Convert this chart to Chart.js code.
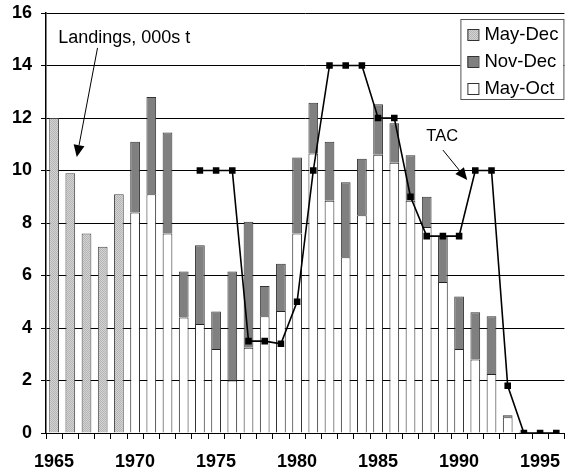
<!DOCTYPE html>
<html>
<head>
<meta charset="utf-8">
<script src="https://cdn.jsdelivr.net/npm/chart.js@4/dist/chart.umd.min.js"></script>
<style>
  body { margin: 0; background: #fff; }
  #wrap { width: 570px; height: 475px; }
</style>
</head>
<body>
<div id="wrap"><canvas id="tacChart"></canvas></div>
<script>
const years = [];
for (let y = 1965; y <= 1996; y++) years.push(String(y));

// landings, 000s t
const mayDec = [12.0, 9.9, 7.6, 7.1, 9.1, null, null, null, null, null, null, null, null, null, null, null,
                null, null, null, null, null, null, null, null, null, null, null, null, null, null, null, null];
const mayOct = [null, null, null, null, null, 8.4, 9.1, 7.6, 4.4, 4.15, 3.2, 2.0, 3.25, 4.45, 4.65, 7.6,
                10.65, 8.85, 6.7, 8.3, 10.6, 10.3, 8.85, 7.85, 5.75, 3.2, 2.8, 2.25, 0.6, 0.05, 0, 0];
const novDec = [null, null, null, null, null, 2.7, 3.7, 3.85, 1.75, 3.0, 1.43, 4.15, 4.8, 1.15, 1.8, 2.9,
                1.93, 2.25, 2.85, 2.15, 1.92, 1.5, 1.73, 1.15, 1.75, 2.0, 1.8, 2.2, 0.08, 0, 0, 0];
const tac = [null, null, null, null, null, null, null, null, null, 10, 10, 10, 3.5, 3.5, 3.4, 5.0,
             10, 14, 14, 14, 12, 12, 9.0, 7.5, 7.5, 7.5, 10, 10, 1.8, 0, 0, 0];
const yTicks = [0, 2, 4, 6, 8, 10, 12, 14, 16];

const font = 'Arial, "Liberation Sans", sans-serif';

// light grey stipple for the May-Dec bars
function stipple() {
    const c = document.createElement('canvas');
    c.width = 2; c.height = 2;
    const g = c.getContext('2d');
    g.fillStyle = '#d4d4d4';
    g.fillRect(0, 0, 2, 2);
    g.fillStyle = '#b4b4b4';
    g.fillRect(0, 0, 1, 1);
    g.fillRect(1, 1, 1, 1);
    return g.createPattern(c, 'repeat');
}
const stippleFill = stipple();

function arrow(ctx, x1, y1, x2, y2) {
    const a = Math.atan2(y2 - y1, x2 - x1);
    const len = 12, w = 5.5;
    const bx = x2 - len * Math.cos(a), by = y2 - len * Math.sin(a);
    ctx.beginPath();
    ctx.moveTo(x1, y1);
    ctx.lineTo(bx, by);
    ctx.stroke();
    ctx.beginPath();
    ctx.moveTo(x2, y2);
    ctx.lineTo(bx + w * Math.sin(a), by - w * Math.cos(a));
    ctx.lineTo(bx - w * Math.sin(a), by + w * Math.cos(a));
    ctx.closePath();
    ctx.fill();
}

const notes = {
    id: 'notes',
    afterDraw(chart) {
        const ctx = chart.ctx;
        const x = chart.scales.x, y = chart.scales.y;
        const px = v => x.left + (v + 0.5) * (x.width / years.length);
        ctx.save();
        ctx.fillStyle = '#000';
        ctx.strokeStyle = '#000';
        ctx.lineWidth = 1;
        ctx.font = '18px ' + font;
        ctx.textAlign = 'center';
        ctx.textBaseline = 'middle';
        ctx.fillText('Landings, 000s t', px(4.33), y.getPixelForValue(15.05));
        arrow(ctx, px(2.68), y.getPixelForValue(14.67), px(1.4), y.getPixelForValue(10.51));
        ctx.font = '16.5px ' + font;
        ctx.fillText('TAC', px(23.96), y.getPixelForValue(11.31));
        arrow(ctx, px(24.0), y.getPixelForValue(10.78), px(25.5), y.getPixelForValue(9.64));

        // legend box
        const area = chart.chartArea;
        const bw = 103, bh = 80;
        const bx = area.right - bw - 1, by = area.top + 6;
        ctx.fillStyle = '#fff';
        ctx.fillRect(bx, by, bw, bh);
        ctx.strokeStyle = '#555';
        ctx.strokeRect(bx + 0.5, by + 0.5, bw, bh);
        const items = [['May-Dec', stippleFill], ['Nov-Dec', '#808080'], ['May-Oct', '#fff']];
        ctx.font = '18.5px ' + font;
        ctx.textAlign = 'left';
        items.forEach((it, i) => {
            const ry = by + 15 + i * 27;
            ctx.fillStyle = it[1];
            ctx.fillRect(bx + 7, ry - 5, 11, 11);
            ctx.strokeStyle = '#333';
            ctx.strokeRect(bx + 7.5, ry - 4.5, 11, 11);
            ctx.fillStyle = '#000';
            ctx.fillText(it[0], bx + 24, ry + 1);
        });
        ctx.restore();
    }
};

new Chart(document.getElementById('tacChart'), {
    data: {
        labels: years,
        datasets: [
            {
                type: 'line',
                label: 'TAC',
                data: tac,
                order: 0,
                borderColor: '#000',
                borderWidth: 1.6,
                pointStyle: 'rect',
                pointRadius: 3.5,
                pointBackgroundColor: '#000',
                pointBorderColor: '#000',
                tension: 0,
                stack: 'tac'
            },
            {
                type: 'bar',
                label: 'May-Oct',
                data: mayOct,
                order: 1,
                stack: 'land',
                backgroundColor: '#fff',
                borderColor: '#222',
                borderWidth: 1,
                barPercentage: 0.6,
                categoryPercentage: 1
            },
            {
                type: 'bar',
                label: 'Nov-Dec',
                data: novDec,
                order: 1,
                stack: 'land',
                backgroundColor: '#808080',
                borderColor: '#333',
                borderWidth: 1,
                barPercentage: 0.6,
                categoryPercentage: 1
            },
            {
                type: 'bar',
                label: 'May-Dec',
                data: mayDec,
                order: 1,
                stack: 'land',
                backgroundColor: stippleFill,
                borderColor: '#444',
                borderWidth: 1,
                barPercentage: 0.6,
                categoryPercentage: 1
            }
        ]
    },
    options: {
        responsive: true,
        maintainAspectRatio: false,
        animation: false,
        layout: { padding: { top: 13, right: 1, left: 0, bottom: 0 } },
        plugins: {
            legend: { display: false },
            tooltip: { enabled: false }
        },
        scales: {
            x: {
                stacked: true,
                offset: true,
                grid: { offset: true, drawOnChartArea: false, color: '#000', tickLength: 6 },
                border: { color: '#000', width: 1 },
                ticks: {
                    autoSkip: false,
                    maxRotation: 0,
                    color: '#000',
                    font: { family: font, size: 18, weight: 'bold' },
                    padding: 12,
                    callback: function (v, i) {
                        return Number(years[i]) % 5 === 0 ? years[i] : '';
                    }
                },
                afterFit: s => { s.height = 42; s.paddingLeft = 0; s.paddingRight = 0; }
            },
            y: {
                stacked: true,
                min: 0,
                max: 16,
                afterBuildTicks: s => { s.ticks = yTicks.map(v => ({ value: v })); },
                grid: { color: '#000', lineWidth: 1, tickLength: 5 },
                border: { color: '#000', width: 1.5 },
                ticks: {
                    color: '#000',
                    font: { family: font, size: 18, weight: 'bold' },
                    padding: 9
                },
                afterFit: s => { s.width = 46; s.paddingTop = 0; s.paddingBottom = 0; }
            }
        }
    },
    plugins: [notes]
});
</script>
</body>
</html>
